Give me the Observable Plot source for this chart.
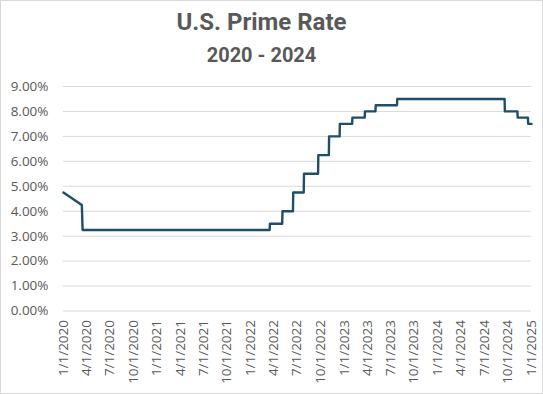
<!DOCTYPE html>
<html><head><meta charset="utf-8">
<script src="https://cdn.jsdelivr.net/npm/d3@7"></script>
<script src="https://cdn.jsdelivr.net/npm/@observablehq/plot@0.6"></script>
<style>
body{margin:0;background:#fff}
#c{position:relative;width:543px;height:394px;box-sizing:border-box;border:1px solid #d9d9d9;overflow:hidden;background:#fff}
.t{position:absolute;left:0;width:521px;text-align:center;font-family:Roboto,"Liberation Sans",sans-serif;font-weight:bold;color:#595959;white-space:nowrap}
#plot{position:absolute;left:-1px;top:69px}
</style></head><body>
<div id="c">
<div class="t" style="top:7px;font-size:24px">U.S. Prime Rate</div>
<div class="t" style="top:42px;font-size:20px">2020 - 2024</div>
<div id="plot"></div>
</div>
<script>
// observed series (date, prime rate %)
const dates = ["2020-01-01","2020-03-13","2020-03-16","2022-03-16","2022-03-17","2022-05-04","2022-05-05","2022-06-15","2022-06-16","2022-07-27","2022-07-28","2022-09-21","2022-09-22","2022-11-02","2022-11-03","2022-12-14","2022-12-15","2023-02-01","2023-02-02","2023-03-22","2023-03-23","2023-05-03","2023-05-04","2023-07-26","2023-07-27","2024-09-18","2024-09-19","2024-11-07","2024-11-08","2024-12-18","2024-12-19","2025-01-01"];
const rates = [4.75,4.25,3.25,3.25,3.5,3.5,4.0,4.0,4.75,4.75,5.5,5.5,6.25,6.25,7.0,7.0,7.5,7.5,7.75,7.75,8.0,8.0,8.25,8.25,8.5,8.5,8.0,8.0,7.75,7.75,7.5,7.5];
const xTickLabels = ["1/1/2020","4/1/2020","7/1/2020","10/1/2020","1/1/2021","4/1/2021","7/1/2021","10/1/2021","1/1/2022","4/1/2022","7/1/2022","10/1/2022","1/1/2023","4/1/2023","7/1/2023","10/1/2023","1/1/2024","4/1/2024","7/1/2024","10/1/2024","1/1/2025"];
const yTicks = [0,1,2,3,4,5,6,7,8,9];

const parseISO = d3.utcParse("%Y-%m-%d");
const parseUS = d3.utcParse("%m/%d/%Y");
const data = dates.map((d,i)=>({date:parseISO(d), rate:rates[i]}));
const xTicks = xTickLabels.map(parseUS);
const fmtX = d3.utcFormat("%-m/%-d/%Y");

const chart = Plot.plot({
  width:543, height:325,
  marginTop:16, marginBottom:84, marginLeft:63, marginRight:11,
  style:{fontFamily:"'Open Sans',sans-serif", fontSize:"13.5px", color:"#595959", background:"transparent"},
  x:{type:"utc", domain:[xTicks[0], xTicks[xTicks.length-1]], ticks:xTicks, tickFormat:fmtX, tickRotate:-90, tickSize:0, tickPadding:9, label:null},
  y:{domain:[0,9], ticks:yTicks, tickFormat:d=>d.toFixed(2)+"%", tickSize:0, tickPadding:15, label:null},
  marks:[
    Plot.gridY(yTicks,{stroke:"#d9d9d9", strokeOpacity:1, strokeWidth:1}),
    Plot.line(data,{x:"date", y:"rate", stroke:"#1d4e6b", strokeWidth:2.4, curve:"linear"})
  ]
});
document.getElementById("plot").appendChild(chart);
</script>
</body></html>
